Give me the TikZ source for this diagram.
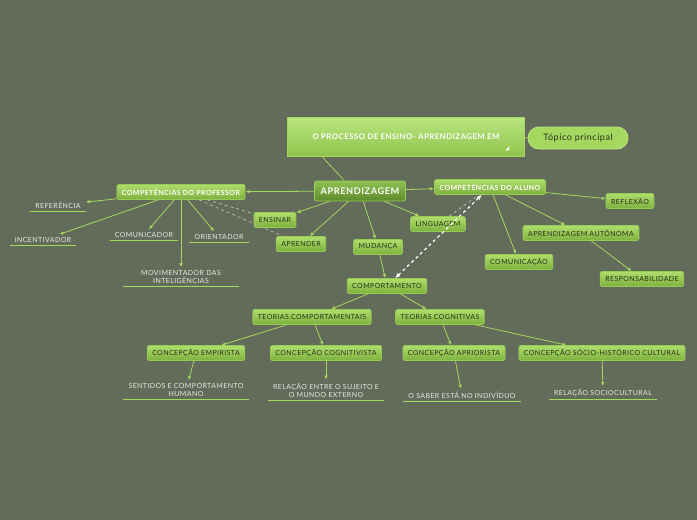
\documentclass[tikz,border=0pt]{standalone}
\usepackage{fontspec}
\setmainfont{Lato}[LetterSpace=6]
\usetikzlibrary{arrows.meta,positioning,calc}

\definecolor{bg}{HTML}{636B5B}
\definecolor{line}{HTML}{A6D85E}
\definecolor{nodetop}{HTML}{B0DE6C}
\definecolor{nodebot}{HTML}{7DB03E}
\definecolor{nodeedge}{HTML}{96C955}
\definecolor{txt}{HTML}{26301C}
\definecolor{leaftxt}{HTML}{E6E9DF}
\definecolor{roottop}{HTML}{8FC250}
\definecolor{rootbot}{HTML}{5D8A2C}
\definecolor{rootedge}{HTML}{9ACD58}
\definecolor{maintop}{HTML}{B9E57F}
\definecolor{mainbot}{HTML}{8FC34C}
\definecolor{mainedge}{HTML}{A6D860}
\definecolor{pillfill}{HTML}{A6D860}
\definecolor{pilledge}{HTML}{BDE87F}
\definecolor{linkgrey}{HTML}{B4B9AE}

\begin{document}
\begin{tikzpicture}[
  x=1pt, y=-1pt,
  >=Latex,
  box/.style={rectangle, rounded corners=2pt, draw=nodeedge, line width=0.8pt,
    top color=nodetop, bottom color=nodebot, text=txt,
    font=\fontsize{7}{8}\selectfont, inner xsep=5pt, inner ysep=2pt, minimum height=15pt},
  hub/.style={box, text=white, font=\bfseries\fontsize{7}{8}\selectfont},
  root/.style={box, top color=roottop, bottom color=rootbot, draw=rootedge,
    text=white, font=\bfseries\fontsize{9.2}{10}\selectfont, minimum width=91pt, minimum height=20pt},
  main/.style={rectangle, draw=mainedge, line width=1.5pt, top color=maintop,
    bottom color=mainbot, text=white, font=\bfseries\fontsize{7.8}{9}\selectfont,
    minimum width=237pt, minimum height=39pt},
  pill/.style={rectangle, rounded corners=11pt, draw=pilledge, line width=0.8pt,
    fill=pillfill, text=txt, font=\fontsize{9}{10}\selectfont,
    minimum width=100pt, minimum height=22pt},
  leaf/.style={text=leaftxt, font=\fontsize{7}{8}\selectfont, align=center,
    inner xsep=5pt, inner ysep=3pt},
  uline/.style={draw=line, line width=0.9pt},
  edge/.style={-{Latex[length=4pt,width=3.5pt]}, draw=line, line width=0.8pt},
  plain/.style={draw=line, line width=0.8pt},
  link/.style={dashed, draw=linkgrey, line width=0.8pt},
  rel/.style={{Latex[length=5pt,width=4.5pt]}-{Latex[length=5pt,width=4.5pt]}, draw=white,
    dashed, line width=1.2pt}
]
\useasboundingbox (0,0) rectangle (697,520);
\fill[bg] (0,0) rectangle (697,520);

% --- central topic ---
\node[main] (topic) at (406,137) {O PROCESSO DE ENSINO- APRENDIZAGEM EM};
\fill[white!85!nodetop] ($(topic.south east)+(-20,-7)$) -- ++(4,0) -- ++(0,-4) -- cycle;
\node[pill] (tp) at (578,138) {Tópico principal};
\node[root] (aprend) at (360,191) {APRENDIZAGEM};

% --- main branches ---
\node[hub] (prof)  at (181,192) {COMPETÊNCIAS DO PROFESSOR};
\node[hub] (aluno) at (490,187) {COMPETÊNCIAS DO ALUNO};

\node[box] (ensinar)  at (275,220) {ENSINAR};
\node[box] (aprender) at (301,244) {APRENDER};
\node[box] (mudanca)  at (378,247) {MUDANÇA};
\node[box] (ling)     at (438,224) {LINGUAGEM};

\node[box] (reflex)  at (630,201) {REFLEXÃO};
\node[box] (auton)   at (581,233) {APRENDIZAGEM AUTÔNOMA};
\node[box] (comunic) at (519,262) {COMUNICAÇÃO};
\node[box] (resp)    at (642,279) {RESPONSABILIDADE};

\node[box] (comport) at (387,286) {COMPORTAMENTO};
\node[box] (tcomp)   at (312,317) {TEORIAS COMPORTAMENTAIS};
\node[box] (tcog)    at (440,317) {TEORIAS COGNITIVAS};
\node[box] (empir)   at (196,353) {CONCEPÇÃO EMPIRISTA};
\node[box] (cognit)  at (326,353) {CONCEPÇÃO COGNITIVISTA};
\node[box] (aprior)  at (454,353) {CONCEPÇÃO APRIORISTA};
\node[box] (socio)   at (602,353) {CONCEPÇÃO SÓCIO-HISTÓRICO CULTURAL};

% --- underlined leaves ---
\node[leaf] (ref)     at (58,205)  {REFERÊNCIA};
\node[leaf] (incent)  at (43,240)  {INCENTIVADOR};
\node[leaf] (comunicador) at (144,235) {COMUNICADOR};
\node[leaf] (orient)  at (219,237) {ORIENTADOR};
\node[leaf, minimum width=115pt] (movim) at (181,277) {MOVIMENTADOR DAS\\INTELIGÊNCIAS};
\node[leaf] (sentidos)  at (186,390) {SENTIDOS E COMPORTAMENTO\\HUMANO};
\node[leaf] (relacao)   at (326,390) {RELAÇÃO ENTRE O SUJEITO E\\O MUNDO EXTERNO};
\node[leaf] (saber)     at (462,395) {O SABER ESTÁ NO INDIVÍDUO};
\node[leaf] (sociocult) at (603,393) {RELAÇÃO SOCIOCULTURAL};

\foreach \n in {ref,incent,comunicador,orient,movim,sentidos,relacao,saber,sociocult}
  \draw[uline] (\n.south west) -- (\n.south east);

% --- connectors ---
\draw[plain] (topic) -- (tp);
\draw[plain] ($(topic.south west)!0.15!(topic.south east)$) -- ($(aprend.north west)!0.33!(aprend.north east)$);

\draw[edge] (aprend) -- (prof);
\draw[edge] (aprend) -- (aluno);
\draw[edge] (aprend) -- (ensinar);
\draw[edge] (aprend) -- (aprender);
\draw[edge] (aprend) -- (mudanca);
\draw[edge] (aprend) -- (ling);
\draw[edge] (mudanca) -- (comport);

% dashed relations
\draw[link] (prof) -- (ensinar);
\draw[link] (prof) -- (aprender);
\draw[link] (ling) -- (aluno);
\draw[rel] (comport) -- (aluno);

% professor side
\draw[edge] (prof) -- (ref);
\draw[edge] (prof) -- (incent);
\draw[edge] (prof) -- (comunicador);
\draw[edge] (prof) -- (movim);
\draw[edge] (prof) -- (orient);

% aluno side
\draw[edge] (aluno) -- (reflex);
\draw[edge] (aluno) -- (comunic);
\draw[edge] (aluno) -- (auton);
\draw[edge] (auton) -- (resp);

% comportamento and teorias
\draw[edge] (comport) -- (tcomp);
\draw[edge] (comport) -- (tcog);
\draw[edge] (tcomp) -- (empir);
\draw[edge] (tcomp) -- (cognit);
\draw[edge] (tcog) -- (aprior);
\draw[edge] (tcog) -- (socio);
\draw[edge] (empir) -- (sentidos);
\draw[edge] (cognit) -- (relacao);
\draw[edge] (aprior) -- (saber);
\draw[edge] (socio) -- (sociocult);

\end{tikzpicture}
\end{document}
